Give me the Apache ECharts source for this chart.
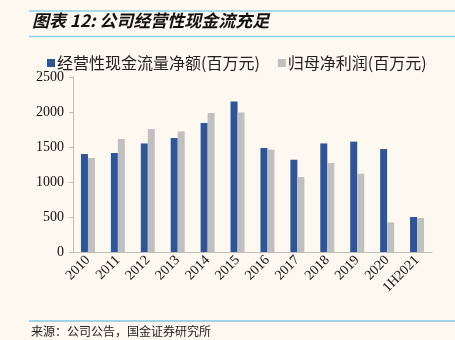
<!DOCTYPE html>
<html><head><meta charset="utf-8">
<script src="https://cdn.jsdelivr.net/npm/echarts@6/dist/echarts.min.js"></script>
<style>html,body{margin:0;padding:0;background:#fdf9f0;}#c{width:455px;height:340px;}</style>
</head><body><div id="c"></div>
<script>
const categories = ['2010','2011','2012','2013','2014','2015','2016','2017','2018','2019','2020','1H2021'];
const cashFlow = [1400,1414,1551,1628,1843,2151,1486,1318,1551,1576,1471,500];
const netProfit = [1343,1614,1757,1723,1986,1994,1461,1071,1271,1118,423,486];
const seriesNames = ['经营性现金流量净额(百万元)','归母净利润(百万元)'];
const titleText = '图表 12: 公司经营性现金流充足';
const sourceText = '来源：公司公告，国金证券研究所';

const chart = echarts.init(document.getElementById('c'));
const serif = '"Liberation Serif","DejaVu Serif",serif';
const cjk = '"Noto Sans CJK SC","Noto Sans",sans-serif';
chart.setOption({
  backgroundColor: '#fdf9f0',
  animation: false,
  graphic: [
    {type:'line', shape:{x1:29,y1:11,x2:455,y2:11}, style:{stroke:'#8ccfe8',lineWidth:1.5}},
    {type:'text', left:32, top:12, style:{text:titleText, font:'italic bold 17px '+cjk, fill:'#111'}},
    {type:'line', shape:{x1:29,y1:36.5,x2:455,y2:36.5}, style:{stroke:'#8ccfe8',lineWidth:1.5}},
    {type:'line', shape:{x1:29,y1:321,x2:455,y2:321}, style:{stroke:'#4aa8d8',lineWidth:1}},
    {type:'text', left:31, top:325, style:{text:sourceText, font:'12px '+cjk, fill:'#222'}}
  ],
  legend: {
    top: 50, left: 42, itemWidth: 8, itemHeight: 8, itemGap: 18, icon: 'rect',
    textStyle: {fontFamily: cjk, fontSize: 16, color: '#222', padding:[0,0,0,-3]},
    data: seriesNames
  },
  grid: {left: 73, right: 23, top: 77, bottom: 88},
  xAxis: {
    type: 'category', data: categories,
    axisLine: {lineStyle: {color: '#bfbfbf'}},
    axisTick: {lineStyle: {color: '#bfbfbf'}, length: 4},
    axisLabel: {rotate: 45, fontFamily: serif, fontSize: 14, color: '#111', margin: 6, interval: 0}
  },
  yAxis: {
    type: 'value', min: 0, max: 2500, interval: 500,
    axisLine: {show: true, lineStyle: {color: '#bfbfbf'}},
    axisTick: {show: true, lineStyle: {color: '#bfbfbf'}, length: 4},
    splitLine: {show: false},
    axisLabel: {fontFamily: serif, fontSize: 14, color: '#111', margin: 9, formatter: v => String(v)}
  },
  series: [
    {name: seriesNames[0], type: 'bar', data: cashFlow, barWidth: 7, barGap: '0%', itemStyle: {color: '#2e5597'}},
    {name: seriesNames[1], type: 'bar', data: netProfit, barWidth: 7, barGap: '0%', itemStyle: {color: '#c0c0c0'}}
  ]
});
</script></body></html>
